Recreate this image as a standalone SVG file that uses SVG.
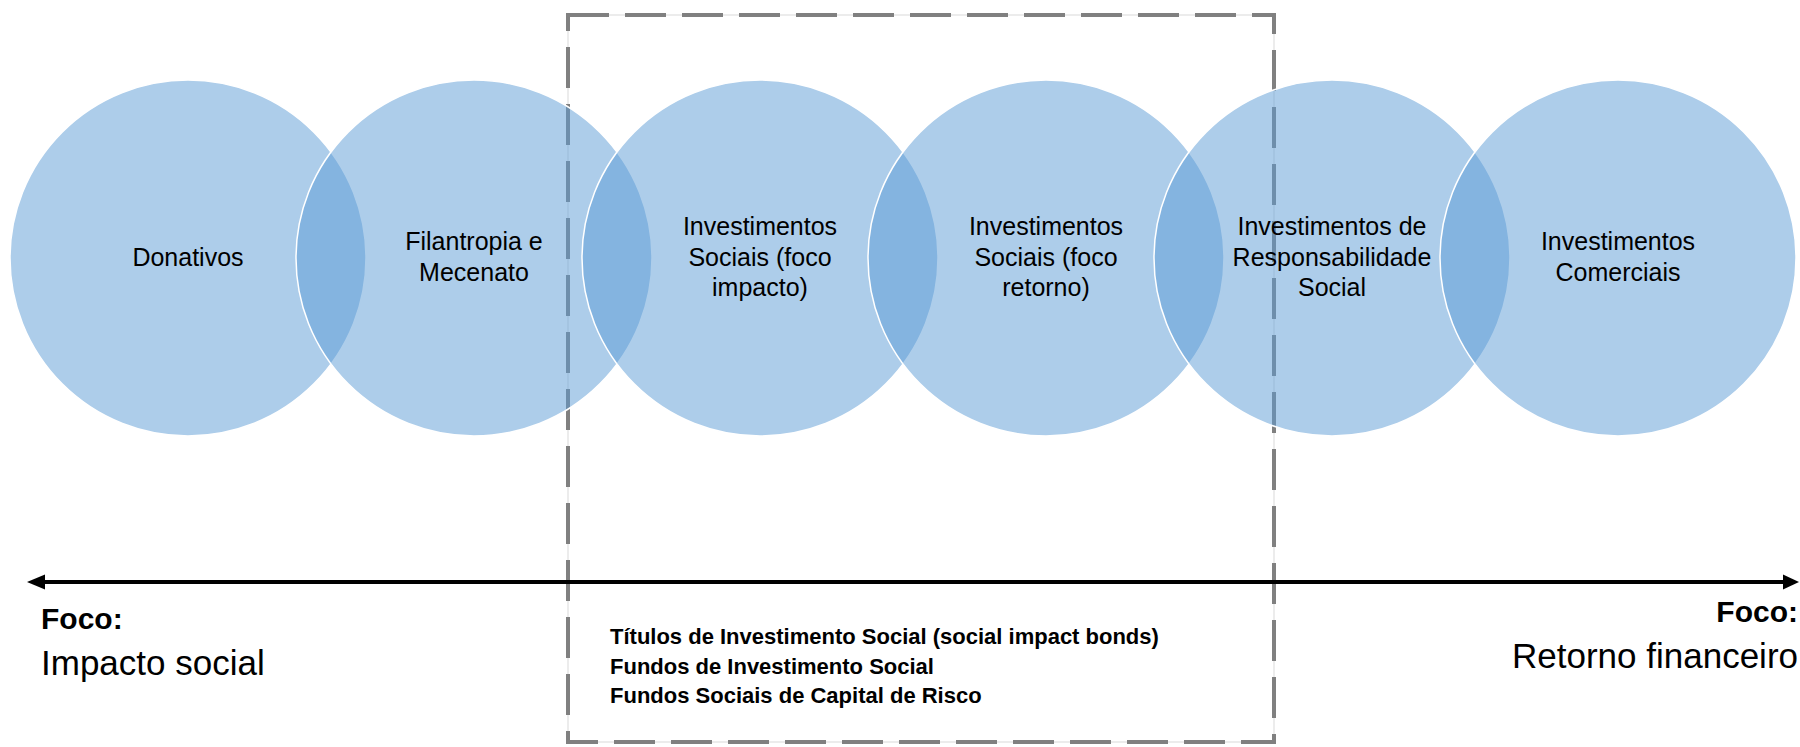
<svg xmlns="http://www.w3.org/2000/svg" width="1800" height="747" viewBox="0 0 1800 747">
  <style>
    .c { fill: #5B9BD5; fill-opacity: 0.5; stroke: #ffffff; stroke-width: 1.5; }
    .t { font-family: "Liberation Sans", Arial, sans-serif; font-size: 25px; fill: #000; text-anchor: middle; }
    .foco { font-family: "Liberation Sans", Arial, sans-serif; font-size: 30px; font-weight: bold; fill: #000; }
    .sub { font-family: "Liberation Sans", Arial, sans-serif; font-size: 35px; fill: #000; }
    .box { font-family: "Liberation Sans", Arial, sans-serif; font-size: 22px; font-weight: bold; fill: #000; }
  </style>
  <rect width="1800" height="747" fill="#ffffff"/>

  <g id="dashed-box">
    <rect x="568" y="15" width="706" height="727" fill="none" stroke="#d9d9d9" stroke-width="1"/>
    <rect x="568" y="15" width="706" height="727" fill="none" stroke="#808080" stroke-width="4" stroke-dasharray="41 16"/>
  </g>

  <g id="node-donativos">
    <circle class="c" cx="188" cy="258" r="178"/>
  </g>
  <g id="node-filantropia">
    <circle class="c" cx="474" cy="258" r="178"/>
  </g>
  <g id="node-impacto">
    <circle class="c" cx="760" cy="258" r="178"/>
  </g>
  <g id="node-retorno">
    <circle class="c" cx="1046" cy="258" r="178"/>
  </g>
  <g id="node-responsabilidade">
    <circle class="c" cx="1332" cy="258" r="178"/>
  </g>
  <g id="node-comerciais">
    <circle class="c" cx="1618" cy="258" r="178"/>
  </g>

  <g id="labels">
    <text class="t" x="188" y="266">Donativos</text>
    <text class="t" x="474" y="250">Filantropia e</text>
    <text class="t" x="474" y="281">Mecenato</text>
    <text class="t" x="760" y="235">Investimentos</text>
    <text class="t" x="760" y="266">Sociais (foco</text>
    <text class="t" x="760" y="296">impacto)</text>
    <text class="t" x="1046" y="235">Investimentos</text>
    <text class="t" x="1046" y="266">Sociais (foco</text>
    <text class="t" x="1046" y="296">retorno)</text>
    <text class="t" x="1332" y="235">Investimentos de</text>
    <text class="t" x="1332" y="266">Responsabilidade</text>
    <text class="t" x="1332" y="296">Social</text>
    <text class="t" x="1618" y="250">Investimentos</text>
    <text class="t" x="1618" y="281">Comerciais</text>
  </g>

  <g id="connectors">
    <line x1="40" y1="582" x2="1786" y2="582" stroke="#000" stroke-width="4"/>
    <polygon points="27,582 45,574.5 45,589.5" fill="#000"/>
    <polygon points="1799,582 1783,574.5 1783,589.5" fill="#000"/>
  </g>

  <g id="left-label">
    <text class="foco" x="41" y="629">Foco:</text>
    <text class="sub" x="41" y="675">Impacto social</text>
  </g>
  <g id="right-label">
    <text class="foco" x="1798" y="622" text-anchor="end">Foco:</text>
    <text class="sub" x="1798" y="668" text-anchor="end">Retorno financeiro</text>
  </g>

  <g id="box-text">
    <text class="box" x="610" y="644">Títulos de Investimento Social (social impact bonds)</text>
    <text class="box" x="610" y="673.5">Fundos de Investimento Social</text>
    <text class="box" x="610" y="703">Fundos Sociais de Capital de Risco</text>
  </g>
</svg>
